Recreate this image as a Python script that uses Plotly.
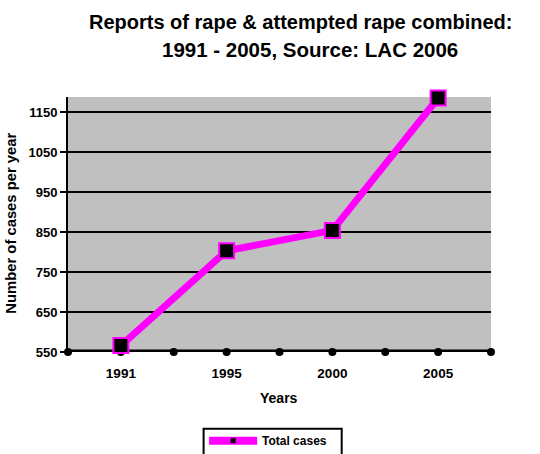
import numpy as np
import plotly.graph_objects as go

years = ["1991", "1995", "2000", "2005"]
cases = [566, 803, 854, 1185]
y_ticks = [550, 650, 750, 850, 950, 1050, 1150]
series_name = "Total cases"
title_line1 = "Reports of rape & attempted rape combined:"
title_line2 = "1991 - 2005, Source: LAC 2006"
y_title = "Number of cases per year"
x_title = "Years"

W, H = 540, 454
L, R, T, B = 68, 490.7, 97.3, 352.3
FONT = "Arial, Liberation Sans, sans-serif"
MAG = "#FF00FF"

def px(xp):
    return (xp - L) / (R - L)

def py(yp):
    return (B - yp) / (B - T)

xi = np.arange(len(years))
fig = go.Figure()

# thick category axis with dots at boundaries and centres
axis_x = np.arange(-0.5, len(years), 0.5)
fig.add_trace(go.Scatter(
    x=axis_x, y=[y_ticks[0]] * len(axis_x), mode="lines+markers",
    line=dict(color="black", width=5),
    marker=dict(symbol="circle", size=8, color="black"),
    showlegend=False, hoverinfo="skip", cliponaxis=False))

fig.add_trace(go.Scatter(
    x=xi, y=cases, mode="lines+markers", name=series_name,
    line=dict(color=MAG, width=7),
    marker=dict(symbol="square", size=15, color="black",
                line=dict(color=MAG, width=2)),
    showlegend=False, cliponaxis=False))

# legend drawn by hand (box, line sample, marker sample, label)
leg_y = 441
shapes = [
    dict(type="rect", xref="paper", yref="paper",
         x0=px(203.5), x1=px(341.5), y0=py(429), y1=py(460),
         line=dict(color="black", width=2), fillcolor="white", layer="above"),
    dict(type="line", xref="paper", yref="paper",
         x0=px(209), x1=px(257), y0=py(leg_y), y1=py(leg_y),
         line=dict(color=MAG, width=8), layer="above"),
    dict(type="rect", xref="paper", yref="paper",
         x0=px(230), x1=px(236), y0=py(leg_y - 3), y1=py(leg_y + 3),
         line=dict(color=MAG, width=1), fillcolor="black", layer="above"),
]

fig.update_layout(
    width=W, height=H,
    margin=dict(l=L, r=W - R, t=T, b=H - B, pad=0),
    paper_bgcolor="white", plot_bgcolor="#C0C0C0",
    font=dict(family=FONT, size=12, color="black", weight="bold"),
    showlegend=False,
    shapes=shapes,
    xaxis=dict(range=[-0.5, len(years) - 0.5], tickvals=xi, ticktext=years,
               showgrid=False, zeroline=False, showline=False, automargin=False,
               ticks="outside", ticklen=9, tickcolor="rgba(0,0,0,0)",
               tickfont=dict(family=FONT, size=13.5, weight="bold")),
    yaxis=dict(range=[550, 1187.5], tickvals=y_ticks, automargin=False,
               showgrid=True, gridcolor="black", gridwidth=2,
               zeroline=False, showline=True, linecolor="black", linewidth=2,
               ticks="outside", ticklen=6, tickwidth=2, tickcolor="black",
               tickfont=dict(family=FONT, size=13, weight="bold")),
    annotations=[
        dict(text=title_line1, xref="paper", yref="paper",
             x=px(300), y=py(22.5), showarrow=False, xanchor="center", yanchor="middle",
             font=dict(family=FONT, size=20, weight="bold")),
        dict(text=title_line2, xref="paper", yref="paper",
             x=px(310), y=py(50), showarrow=False, xanchor="center", yanchor="middle",
             font=dict(family=FONT, size=20.5, weight="bold")),
        dict(text=y_title, xref="paper", yref="paper", textangle=-90,
             x=px(11), y=py(223), showarrow=False, xanchor="center", yanchor="middle",
             font=dict(family=FONT, size=14.8, weight="bold")),
        dict(text=x_title, xref="paper", yref="paper",
             x=px(279), y=py(398), showarrow=False, xanchor="center", yanchor="middle",
             font=dict(family=FONT, size=14, weight="bold")),
        dict(text=series_name, xref="paper", yref="paper",
             x=px(260), y=py(leg_y), showarrow=False, xanchor="left", yanchor="middle",
             font=dict(family=FONT, size=12, weight="bold")),
    ],
)

fig.write_html("out.html")
